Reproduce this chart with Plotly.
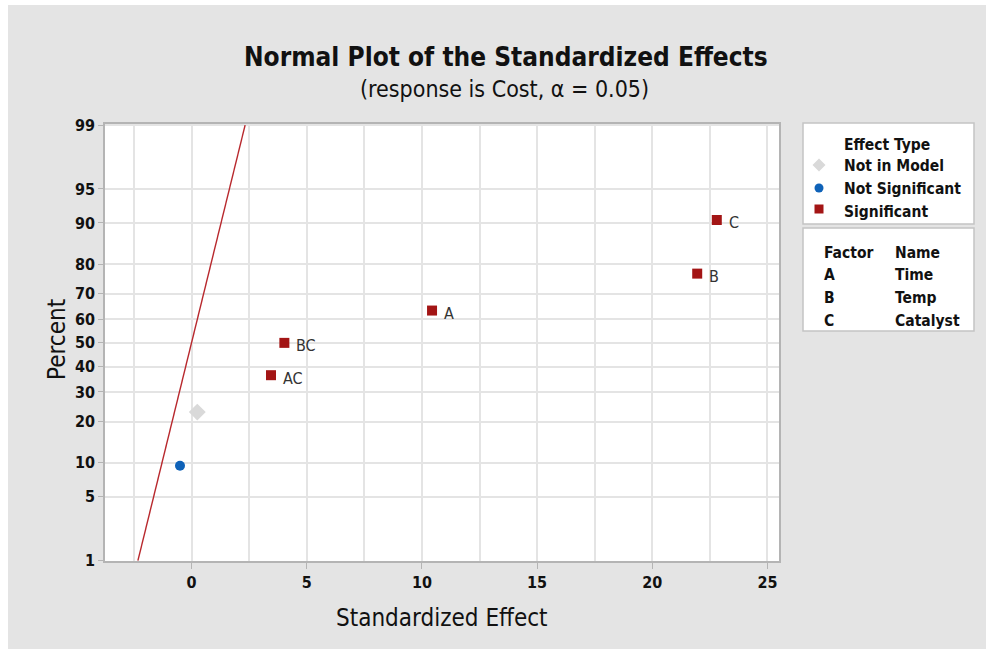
from statistics import NormalDist
import plotly.graph_objects as go

# ---- data -------------------------------------------------------------
terms = ["", "", "AC", "BC", "A", "B", "C"]
effect_type = ["Not Significant", "Not in Model", "Significant", "Significant",
               "Significant", "Significant", "Significant"]
std_effect = [-0.50, 0.25, 3.45, 4.03, 10.44, 21.95, 22.80]
percent = [9.46, 22.97, 36.49, 50.00, 63.51, 77.03, 90.54]

pct_ticks = [1, 5, 10, 20, 30, 40, 50, 60, 70, 80, 90, 95, 99]
x_ticks = [0, 5, 10, 15, 20, 25]
ref_line_pct = [1, 99]

factors = ["A", "B", "C"]
factor_names = ["Time", "Temp", "Catalyst"]

nd = NormalDist()


def z(p):
    """Normal-probability scale: percent -> standard normal quantile."""
    return nd.inv_cdf(p / 100.0)


styles = {
    "Not in Model": dict(symbol="diamond", size=13, color="#d9d9d9"),
    "Not Significant": dict(symbol="circle", size=10, color="#0f62b8"),
    "Significant": dict(symbol="square", size=10, color="#a31515"),
}

FONT = "DejaVu Sans Condensed, DejaVu Sans"
INK = "#111111"

# ---- page geometry (pixels) -------------------------------------------
W, H = 986, 649
L, R, T, B = 105, 779, 124, 561


def px(x):
    return (x - L) / (R - L)


def py(y):
    return (B - y) / (B - T)


fig = go.Figure()

# reference line for effects with mean zero
fig.add_trace(go.Scatter(
    x=[z(p) for p in ref_line_pct], y=[z(p) for p in ref_line_pct],
    mode="lines", line=dict(color="#b8282d", width=1.4),
    showlegend=False, hoverinfo="skip"))

for kind in ["Not in Model", "Not Significant", "Significant"]:
    idx = [i for i, k in enumerate(effect_type) if k == kind]
    st = styles[kind]
    fig.add_trace(go.Scatter(
        x=[std_effect[i] for i in idx],
        y=[z(percent[i]) for i in idx],
        mode="markers",
        marker=dict(symbol=st["symbol"], size=st["size"], color=st["color"],
                    line=dict(width=0)),
        name=kind, showlegend=False))

grid = "#e4e4e4"
axis_line = "#b4b4b4"

fig.update_xaxes(
    range=[-3.755, 25.5], tickvals=x_ticks, ticktext=[str(v) for v in x_ticks],
    showgrid=True, gridcolor=grid, gridwidth=2,
    minor=dict(dtick=2.5, tick0=0, showgrid=True, gridcolor=grid, gridwidth=2),
    ticks="outside", ticklen=6, tickcolor=axis_line, tickwidth=1,
    showline=True, linecolor=axis_line, linewidth=1.5, mirror=True,
    zeroline=False,
    tickfont=dict(family=FONT, size=16, color=INK, weight=700))

fig.update_yaxes(
    range=[z(1) - 0.004, z(99) + 0.012],
    tickvals=[z(p) for p in pct_ticks], ticktext=[str(p) for p in pct_ticks],
    showgrid=True, gridcolor=grid, gridwidth=2,
    ticks="outside", ticklen=5, tickcolor=axis_line, tickwidth=1,
    showline=True, linecolor=axis_line, linewidth=1.5, mirror=True,
    zeroline=False,
    tickfont=dict(family=FONT, size=16, color=INK, weight=700))

shapes = [
    # thin white border strips along the top and left of the page
    dict(type="rect", xref="paper", yref="paper", layer="below",
         x0=px(0), x1=px(W), y0=py(0), y1=py(5),
         fillcolor="white", line=dict(width=0)),
    dict(type="rect", xref="paper", yref="paper", layer="below",
         x0=px(0), x1=px(8), y0=py(0), y1=py(H),
         fillcolor="white", line=dict(width=0)),
    # legend boxes
    dict(type="rect", xref="paper", yref="paper",
         x0=px(803), x1=px(974), y0=py(224), y1=py(123),
         fillcolor="white", line=dict(color="#c4c4c4", width=1.5)),
    dict(type="rect", xref="paper", yref="paper",
         x0=px(803), x1=px(974), y0=py(331), y1=py(228),
         fillcolor="white", line=dict(color="#c4c4c4", width=1.5)),
]

# legend symbols
cx = 819
d = 6.5
dy = 165
shapes.append(dict(
    type="path", xref="paper", yref="paper",
    path=(f"M {px(cx)},{py(dy - d)} L {px(cx + d)},{py(dy)} "
          f"L {px(cx)},{py(dy + d)} L {px(cx - d)},{py(dy)} Z"),
    fillcolor=styles["Not in Model"]["color"], line=dict(width=0)))
r = 4.5
cy = 188
shapes.append(dict(
    type="circle", xref="paper", yref="paper",
    x0=px(cx - r), x1=px(cx + r), y0=py(cy + r), y1=py(cy - r),
    fillcolor=styles["Not Significant"]["color"], line=dict(width=0)))
s = 4.5
sy = 209
shapes.append(dict(
    type="rect", xref="paper", yref="paper",
    x0=px(cx - s), x1=px(cx + s), y0=py(sy + s), y1=py(sy - s),
    fillcolor=styles["Significant"]["color"], line=dict(width=0)))

leg_font = dict(family=FONT, size=15.5, color=INK, weight=700)


def label(text, x, y, font=leg_font, anchor="left", angle=0):
    return dict(text=text, xref="paper", yref="paper", x=px(x), y=py(y),
                xanchor=anchor, yanchor="middle", showarrow=False, font=font,
                textangle=angle)


annotations = [
    label("<b>Normal Plot of the Standardized Effects</b>", 506, 57,
          dict(family=FONT, size=26, color=INK), "center"),
    label("(response is Cost, α = 0.05)", 505, 89,
          dict(family=FONT, size=23, color=INK), "center"),
    label("Standardized Effect", 442, 618,
          dict(family=FONT, size=24, color=INK), "center"),
    label("Percent", 57, 340,
          dict(family=FONT, size=24, color=INK), "center", -90),
    label("Effect Type", 842, 145),
    label("Not in Model", 842, 166),
    label("Not Significant", 842, 189),
    label("Significant", 842, 212),
    label("Factor", 822, 253),
    label("Name", 893, 253),
]
for i, (f, n) in enumerate(zip(factors, factor_names)):
    yy = [275, 298, 321][i]
    annotations.append(label(f, 822, yy))
    annotations.append(label(n, 893, yy))

# term labels next to the labelled effects
for t, xv, pv in zip(terms, std_effect, percent):
    if t:
        annotations.append(dict(
            text=t, x=xv, y=z(pv), xref="x", yref="y",
            xanchor="left", yanchor="middle", xshift=10, yshift=-3,
            showarrow=False, font=dict(family=FONT, size=16, color="#333333")))

fig.update_layout(
    width=W, height=H,
    margin=dict(l=L, r=W - R, t=T, b=H - B),
    paper_bgcolor="#e4e4e4", plot_bgcolor="white",
    shapes=shapes, annotations=annotations,
    showlegend=False,
)

fig.write_html("out.html")
